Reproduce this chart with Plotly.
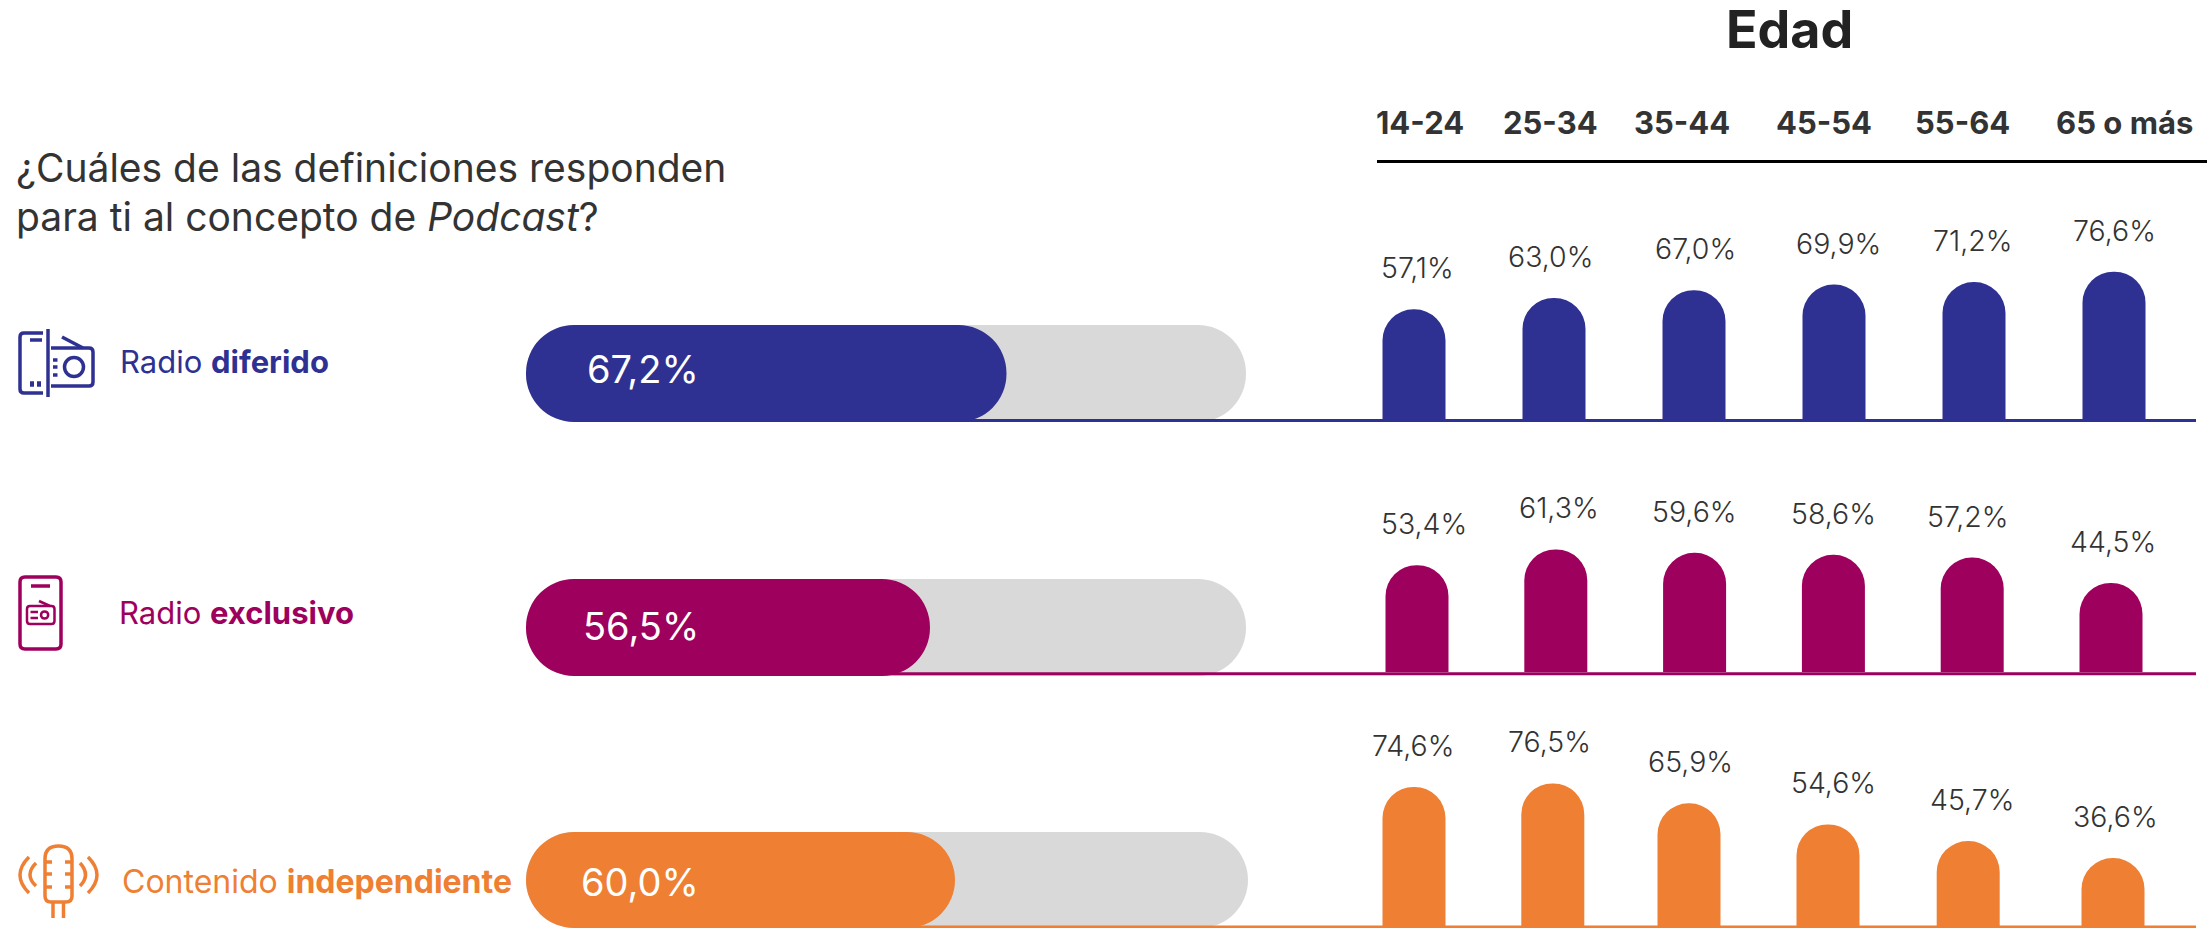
import plotly.graph_objects as go

W, H = 2207, 928
FONT = "Inter"
BLUE, MAGENTA, ORANGE = "#2E3192", "#9E005D", "#EE7F33"
GRAY, INK, DARK = "#D9D9D9", "#333333", "#222222"

# ---------- data ----------
age_groups = ["14-24", "25-34", "35-44", "45-54", "55-64", "65 o más"]
radio_diferido = [57.1, 63.0, 67.0, 69.9, 71.2, 76.6]
radio_exclusivo = [53.4, 61.3, 59.6, 58.6, 57.2, 44.5]
contenido_independiente = [74.6, 76.5, 65.9, 54.6, 45.7, 36.6]
total_values = [67.2, 56.5, 60.0]

# ---------- layout constants (pixels) ----------
def px(x):
    return x / W
def py(y):
    return 1 - y / H
def pt(x, y):
    return f"{px(x):.5f},{py(y):.5f}"

rows = [
    dict(values=radio_diferido, total=total_values[0], color=BLUE,
         plain="Radio ", bold="diferido", label_x=118, label_y=361.5, label_size=31,
         base=419.5, span=193, first=1414, step=140, total_y=369.5,
         track=(325, 422), track_x=(526, 1246), rule_y=420.5,
         bar_nudge=[0, 0, 0, 0, 0, 0], label_nudge=[3, -4, 1, 4, -2, 0]),
    dict(values=radio_exclusivo, total=total_values[1], color=MAGENTA,
         plain="Radio ", bold="exclusivo", label_x=117, label_y=612.5, label_size=31,
         base=672, span=200, first=1417, step=138.8, total_y=625.5,
         track=(579, 676), track_x=(526, 1246), rule_y=673.7,
         bar_nudge=[0, 0, 0, 0, 0, 0], label_nudge=[7, 3, 0, 0, -4, 2]),
    dict(values=contenido_independiente, total=total_values[2], color=ORANGE,
         plain="Contenido ", bold="independiente", label_x=120, label_y=881.5, label_size=32,
         base=926.5, span=187, first=1413, step=139.8, total_y=881.5,
         track=(832, 928), track_x=(526, 1248), rule_y=927,
         bar_nudge=[1, 0, -3.6, -4.4, -4, 1], label_nudge=[0, -3, -2, 1, 0, 3]),
]
BAR_W = 63
PILL_UNIT_PX = 7.15
CAP_H_PX = 48.5
RULE_RIGHT = 2196

headers_x = [1420, 1550, 1682, 1824, 1962, 2124]

fig = go.Figure()
layout_axes = {}
annotations = []
shapes = []

for i, r in enumerate(rows):
    n = i * 2 + 1
    xa_h, ya_h = ("x", "y") if n == 1 else (f"x{n}", f"y{n}")
    xa_v, ya_v = f"x{n+1}", f"y{n+1}"
    key = lambda a: "xaxis" + a[1:] if a[0] == "x" else "yaxis" + a[1:]

    # horizontal pill: a bar with an explicit base is rounded at both ends
    tx0, tx1 = r["track_x"]
    unit = PILL_UNIT_PX
    track_end = (tx1 - tx0) / unit
    cap = CAP_H_PX / unit
    layout_axes[key(xa_h)] = dict(domain=[px(tx0), px(tx1)], range=[0, track_end],
                                  visible=False, fixedrange=True, anchor=ya_h)
    layout_axes[key(ya_h)] = dict(domain=[py(r["track"][1]), py(r["track"][0])],
                                  range=[-0.5, 0.5], visible=False, fixedrange=True,
                                  anchor=xa_h)
    common = dict(y=[0], orientation="h", width=1, base=[0], xaxis=xa_h, yaxis=ya_h,
                  showlegend=False, hoverinfo="skip")
    fig.add_trace(go.Bar(x=[track_end], marker=dict(color=GRAY, line_width=0, cornerradius="50%"), **common))
    fig.add_trace(go.Bar(x=[r["total"]], marker=dict(color=r["color"], line_width=0, cornerradius="50%"), **common))

    # age columns
    step = r["step"]
    left = r["first"] - step / 2
    right = left + step * len(age_groups)
    w = BAR_W / step
    layout_axes[key(xa_v)] = dict(domain=[px(left), px(right)], type="category",
                                  categoryorder="array", categoryarray=age_groups,
                                  range=[-0.5, 5.5], visible=False, fixedrange=True,
                                  anchor=ya_v)
    layout_axes[key(ya_v)] = dict(domain=[py(r["base"]), py(r["base"] - r["span"])],
                                  range=[0, 100], visible=False, fixedrange=True,
                                  anchor=xa_v)
    fig.add_trace(go.Bar(x=age_groups, y=r["values"], width=w,
                         offset=[-w / 2 + d / step for d in r["bar_nudge"]],
                         marker=dict(color=r["color"], line_width=0, cornerradius="50%"),
                         xaxis=xa_v, yaxis=ya_v, showlegend=False,
                         hovertemplate="%{x}: %{y:.1f}%<extra></extra>"))

    # value labels
    for g, v, d in zip(age_groups, r["values"], r["label_nudge"]):
        annotations.append(dict(x=g, y=v, xref=xa_v, yref=ya_v, xshift=d, yshift=41.5,
                                text=f"{v:.1f}%".replace(".", ","), showarrow=False,
                                xanchor="center", yanchor="middle",
                                font=dict(family=FONT, size=28.5, color=INK, weight=300)))
    # total label inside pill
    annotations.append(dict(x=px(701), y=py(r["total_y"]), xref="paper", yref="paper",
                            text=f"{r['total']:.1f}%".replace(".", ","), showarrow=False,
                            xanchor="right", yanchor="middle",
                            font=dict(family=FONT, size=38, color="white")))
    # category label
    annotations.append(dict(x=px(r["label_x"]), y=py(r["label_y"]), xref="paper", yref="paper",
                            text=f"{r['plain']}<b>{r['bold']}</b>", showarrow=False,
                            xanchor="left", yanchor="middle",
                            font=dict(family=FONT, size=r["label_size"], color=r["color"])))
    # baseline rule, starting inside the flat part of the filled pill
    x_start = tx0 + unit * (r["total"] - cap)
    shapes.append(dict(type="line", xref="paper", yref="paper",
                       x0=px(x_start), x1=px(RULE_RIGHT),
                       y0=py(r["rule_y"]), y1=py(r["rule_y"]),
                       line=dict(color=r["color"], width=3)))

# texts
annotations.append(dict(x=px(1789), y=py(29), xref="paper", yref="paper", text="<b>Edad</b>",
                        showarrow=False, xanchor="center", yanchor="middle",
                        font=dict(family=FONT, size=52, color=DARK)))
for g, hx in zip(age_groups, headers_x):
    annotations.append(dict(x=px(hx), y=py(122), xref="paper", yref="paper", text=f"<b>{g}</b>",
                            showarrow=False, xanchor="center", yanchor="middle",
                            font=dict(family=FONT, size=31, color=INK)))
annotations.append(dict(x=px(14), y=py(167.5), xref="paper", yref="paper",
                        text="¿Cuáles de las definiciones responden", showarrow=False,
                        xanchor="left", yanchor="middle", font=dict(family=FONT, size=39, color=INK)))
annotations.append(dict(x=px(14), y=py(216.5), xref="paper", yref="paper",
                        text="para ti al concepto de <i>Podcast</i>?", showarrow=False,
                        xanchor="left", yanchor="middle", font=dict(family=FONT, size=39, color=INK)))
shapes.append(dict(type="line", xref="paper", yref="paper", x0=px(1377), x1=px(2207),
                   y0=py(161.5), y1=py(161.5), line=dict(color="black", width=3)))

# ---------- icons ----------
def stroke(path, color, width=3.5):
    shapes.append(dict(type="path", xref="paper", yref="paper", path=path,
                       line=dict(color=color, width=width), fillcolor="rgba(0,0,0,0)"))
def seg(x0, y0, x1, y1, color, width=3.5):
    stroke(f"M{pt(x0,y0)} L{pt(x1,y1)}", color, width)
def ring(cx, cy, rx, ry, color, width=3.5):
    shapes.append(dict(type="circle", xref="paper", yref="paper", x0=px(cx-rx), x1=px(cx+rx),
                       y0=py(cy+ry), y1=py(cy-ry), line=dict(color=color, width=width)))
def rrect(x0, y0, x1, y1, r):
    return (f"M{pt(x0+r,y0)} L{pt(x1-r,y0)} Q{pt(x1,y0)} {pt(x1,y0+r)} L{pt(x1,y1-r)} "
            f"Q{pt(x1,y1)} {pt(x1-r,y1)} L{pt(x0+r,y1)} Q{pt(x0,y1)} {pt(x0,y1-r)} "
            f"L{pt(x0,y0+r)} Q{pt(x0,y0)} {pt(x0+r,y0)} Z")

# Radio diferido
c = BLUE
stroke(f"M{pt(43,333)} L{pt(24,333)} Q{pt(20,333)} {pt(20,337)} L{pt(20,389)} Q{pt(20,393)} {pt(24,393)} L{pt(43,393)}", c)
seg(48, 329, 48, 397, c)
seg(30, 340, 42, 340, c)
seg(30, 384, 34, 384, c, 5.5); seg(37, 384, 41, 384, c, 5.5)
stroke(f"M{pt(51,348)} L{pt(89,348)} Q{pt(93,348)} {pt(93,352)} L{pt(93,382)} Q{pt(93,386)} {pt(89,386)} L{pt(51,386)}", c)
seg(62, 337, 83, 348, c)
ring(74, 367, 9.5, 9.5, c)
for yy in (360, 367, 375):
    seg(53, yy, 57.5, yy, c)

# Radio exclusivo
c = MAGENTA
stroke(rrect(20, 577, 61, 649, 5), c)
seg(31, 586, 50, 586, c)
stroke(rrect(27, 606, 54.5, 624, 3), c, 2.5)
seg(39, 601, 50, 606, c, 2.5)
ring(44.6, 615, 3.6, 3.6, c, 2.5)
seg(30.5, 612, 38, 612, c, 2.5); seg(30.5, 618, 38, 618, c, 2.5)

# Contenido independiente
c = ORANGE
stroke(f"M{pt(45,859)} Q{pt(45,846)} {pt(58.5,846)} Q{pt(72,846)} {pt(72,859)} L{pt(72,896)} "
       f"Q{pt(72,902)} {pt(66,902)} L{pt(51,902)} Q{pt(45,902)} {pt(45,896)} Z", c)
for yy in (862, 874, 887):
    seg(45, yy, 52, yy, c); seg(65, yy, 72, yy, c)
seg(53, 902, 53, 918, c); seg(63.5, 902, 63.5, 918, c)
stroke(f"M{pt(29,857)} Q{pt(11,875)} {pt(29,893)}", c)
stroke(f"M{pt(36,863)} Q{pt(24,875)} {pt(36,886)}", c)
stroke(f"M{pt(80,863)} Q{pt(91,875)} {pt(80,886)}", c)
stroke(f"M{pt(88,857)} Q{pt(106,875)} {pt(88,893)}", c)

fig.update_layout(width=W, height=H, margin=dict(l=0, r=0, t=0, b=0), autosize=False,
                  paper_bgcolor="white", plot_bgcolor="rgba(0,0,0,0)", barmode="overlay",
                  annotations=annotations, shapes=shapes, font=dict(family=FONT),
                  **layout_axes)

fig.write_html("out.html", config=dict(displayModeBar=False),
               post_script="document.body.style.margin='0';document.body.style.overflow='hidden';")
